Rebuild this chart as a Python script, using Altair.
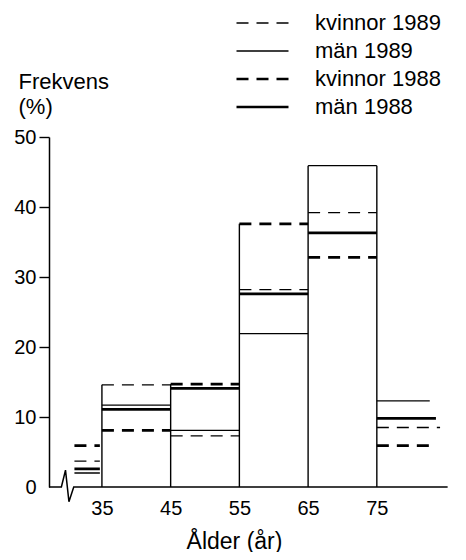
import altair as alt
import pandas as pd

# ---- data ----
series = ["kvinnor 1989", "män 1989", "kvinnor 1988", "män 1988"]
bin_start = [31.0, 35, 45, 55, 65, 75]
bin_end = [34.7, 45, 55, 65, 75, None]          # last bin is open-ended
open_end = [84.2, 82.7, 83.6, 83.6]              # where each open-ended segment stops
kvinnor_1989 = [3.7, 14.6, 7.3, 28.2, 39.2, 8.5]
man_1989 = [2.0, 11.7, 8.1, 21.9, 45.9, 12.3]
kvinnor_1988 = [5.9, 8.1, 14.7, 37.6, 32.8, 5.9]
man_1988 = [2.6, 11.1, 14.1, 27.6, 36.3, 9.8]
x_ticks = [35, 45, 55, 65, 75]
y_ticks = [0, 10, 20, 30, 40, 50]
# baseline with axis-break zigzag
base_x = [27.3, 29.1, 29.7, 30.2, 30.9, 85.3]
base_y = [0, 0, 2.4, -2.1, 0, 0]

values = [kvinnor_1989, man_1989, kvinnor_1988, man_1988]

rows = []
for i, s in enumerate(series):
    for j in range(len(bin_start)):
        end = bin_end[j] if bin_end[j] is not None else open_end[i]
        rows.append({"serie": s, "start": bin_start[j], "end": end, "v": values[i][j]})
seg_df = pd.DataFrame(rows)

# vertical box edges: height = max of adjacent closed bins
closed = list(range(1, 5))
edge_rows = []
for k, e in enumerate(x_ticks):
    tops = []
    for j in closed:
        if bin_start[j] == e or bin_end[j] == e:
            tops += [v[j] for v in values]
    edge_rows.append({"edge": e, "y0": 0, "top": max(tops)})
edge_df = pd.DataFrame(edge_rows)

base_df = pd.DataFrame({"bx": base_x, "by": base_y, "o": list(range(len(base_x)))})

FONT = "Liberation Sans"
xscale = alt.Scale(domain=[27.3, 85.5], nice=False, zero=False)
yscale = alt.Scale(domain=[0, 50], nice=False)

xaxis = alt.Axis(
    values=x_ticks, domain=False, ticks=False, grid=False,
    labelPadding=11, labelFontSize=20, labelFont=FONT, labelColor="black",
    title="Ålder (år)", titleFont=FONT, titleFontSize=23, titleFontWeight="normal",
    titleColor="black", titleX=185, titleY=61, titleAlign="center",
    titleBaseline="alphabetic",
)
yaxis = alt.Axis(
    values=y_ticks, grid=False, tickSize=10, tickWidth=1.4, tickColor="black",
    tickOpacity=alt.condition("datum.value == 0", alt.value(0), alt.value(1)),
    domainColor="black", domainWidth=1.5,
    labelPadding=3, labelFontSize=20, labelFont=FONT, labelColor="black",
    title=["Frekvens", "(%)"], titleFont=FONT, titleFontSize=22,
    titleFontWeight="normal", titleColor="black", titleAngle=0,
    titleAlign="left", titleBaseline="alphabetic", titleX=-31, titleY=-49,
    titleLineHeight=25,
)

legend = alt.Legend(
    orient="none", legendX=186, legendY=-128, title=None,
    symbolType="stroke", symbolSize=2704, symbolStrokeColor="black",
    labelFont=FONT, labelFontSize=22, labelColor="black", labelOffset=25,
    clipHeight=28, rowPadding=0, padding=0, labelLimit=300,
)

segs = alt.Chart(seg_df).mark_rule(color="black").encode(
    x=alt.X("start:Q", scale=xscale, axis=xaxis),
    x2="end:Q",
    y=alt.Y("v:Q", scale=yscale, axis=yaxis),
    strokeDash=alt.StrokeDash(
        "serie:N",
        scale=alt.Scale(domain=series, range=[[12, 8], [1, 0], [12, 8], [1, 0]]),
        legend=legend,
    ),
    strokeWidth=alt.StrokeWidth(
        "serie:N",
        scale=alt.Scale(type="ordinal", domain=series, range=[1.3, 1.3, 2.7, 2.7]),
        legend=legend,
    ),
)

edges = alt.Chart(edge_df).mark_rule(color="black", strokeWidth=1.4).encode(
    x=alt.X("edge:Q", scale=xscale, axis=xaxis),
    y=alt.Y("y0:Q", scale=yscale, axis=yaxis),
    y2="top:Q",
)

base = alt.Chart(base_df).mark_line(color="black", strokeWidth=1.5).encode(
    x=alt.X("bx:Q", scale=xscale, axis=xaxis),
    y=alt.Y("by:Q", scale=yscale, axis=yaxis),
    order="o:Q",
)

chart = (
    alt.layer(edges, base, segs)
    .properties(
        width=400, height=350, autosize="none",
        padding={"left": 41, "top": 129, "right": 9, "bottom": 65},
        background="white",
    )
    .configure_view(stroke=None)
)

chart.save("out.html", embed_options={"renderer": "svg", "actions": False})
